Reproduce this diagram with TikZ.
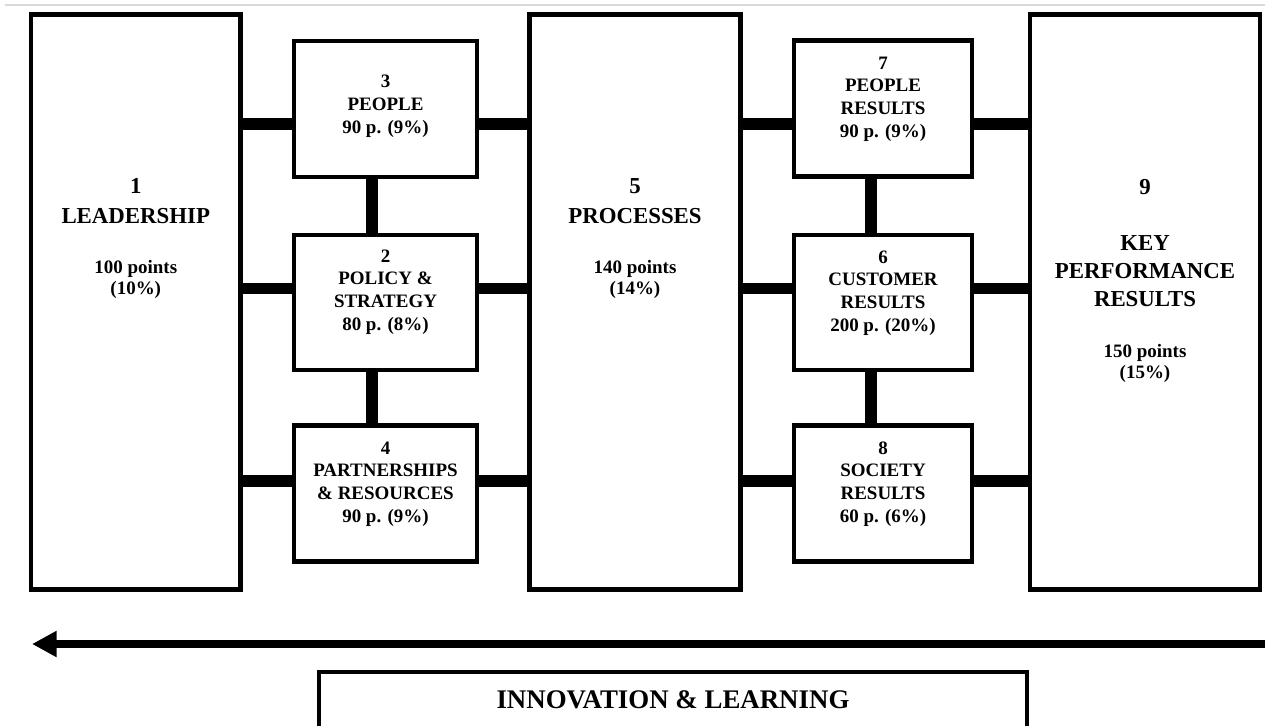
\documentclass[tikz,border=0pt]{standalone}
\usepackage{fontspec}
\setmainfont{Liberation Serif}
\usetikzlibrary{arrows.meta,positioning}
\definecolor{rulegray}{gray}{0.85}
\tikzset{
    frame/.style={draw,line width=2.4pt,inner sep=0pt},
    bigbox/.style={frame,minimum height=11.5cm},
    smallbox/.style={frame,minimum height=2.72cm},
    bar/.style={line width=6.5pt},
    bigtxt/.style={align=center,anchor=base,inner sep=0pt,font=\bfseries\fontsize{13pt}{17pt}\selectfont},
    ptstxt/.style={align=center,anchor=base,inner sep=0pt,font=\bfseries\fontsize{10.8pt}{11.8pt}\selectfont},
    smalltxt/.style={align=center,anchor=base,inner sep=0pt,font=\bfseries\fontsize{10.8pt}{12.9pt}\selectfont}
}
\begin{document}
\begin{tikzpicture}[x=0.02cm,y=-0.02cm]
    \useasboundingbox (0,0) rectangle (1265,725);
    % thin rule along the top
    \coordinate (topl) at (5,5);
    \coordinate (topr) at (1265,5);
    \draw[rulegray,line width=1.2pt] (topl) -- (topr);

    % the three tall columns
    \node[bigbox,minimum width=4.19cm] (lead) at (135.75,302) {};
    \node[bigbox,minimum width=4.22cm] (proc) at (635,302) {};
    \node[bigbox,minimum width=4.6cm] (kpr) at (1145,302) {};

    % enablers
    \node[smallbox,minimum width=3.66cm] (people) at (385.5,109) {};
    \node[smallbox,minimum width=3.66cm,minimum height=2.7cm] (policy) at (385.5,302.5) {};
    \node[smallbox,minimum width=3.66cm] (partner) at (385.5,493.5) {};

    % results
    \node[smallbox,minimum width=3.56cm] (peopleres) at (883,108.5) {};
    \node[smallbox,minimum width=3.56cm,minimum height=2.7cm] (custres) at (883,302.5) {};
    \node[smallbox,minimum width=3.56cm] (socres) at (883,493.5) {};

    % texts (base = baseline of the last line)
    \node[bigtxt] (leadtitle) at (135.75,223) {1\\LEADERSHIP};
    \node[ptstxt] (leadpts) at (135.75,294) {100 points\\(10\%)};
    \node[bigtxt] (proctitle) at (635,223) {5\\PROCESSES};
    \node[ptstxt] (procpts) at (635,294) {140 points\\(14\%)};
    \node[bigtxt] (kprnum) at (1145,194) {9};
    \node[bigtxt,font=\bfseries\fontsize{13pt}{15.8pt}\selectfont] (kprtitle) at (1145,306) {KEY\\PERFORMANCE\\RESULTS};
    \node[ptstxt] (kprpts) at (1145,378) {150 points\\(15\%)};

    \node[smalltxt] (peopletxt) at (385.5,133) {3\\PEOPLE\\90 p. (9\%)};
    \node[smalltxt] (policytxt) at (385.5,330) {2\\POLICY \&\\STRATEGY\\80 p. (8\%)};
    \node[smalltxt] (partnertxt) at (385.5,522) {4\\PARTNERSHIPS\\\& RESOURCES\\90 p. (9\%)};
    \node[smalltxt] (peoplerestxt) at (883,137) {7\\PEOPLE\\RESULTS\\90 p. (9\%)};
    \node[smalltxt] (custrestxt) at (883,331) {6\\CUSTOMER\\RESULTS\\200 p. (20\%)};
    \node[smalltxt] (socrestxt) at (883,522) {8\\SOCIETY\\RESULTS\\60 p. (6\%)};

    % rows and columns of the bars
    \coordinate (row1) at (0,124);
    \coordinate (row2) at (0,288.5);
    \coordinate (row3) at (0,481);
    \coordinate (colL) at (372,0);
    \coordinate (colR) at (871,0);

    \draw[bar] (lead.east |- row1) -- (people.west |- row1);
    \draw[bar] (lead.east |- row2) -- (policy.west |- row2);
    \draw[bar] (lead.east |- row3) -- (partner.west |- row3);
    \draw[bar] (people.east |- row1) -- (proc.west |- row1);
    \draw[bar] (policy.east |- row2) -- (proc.west |- row2);
    \draw[bar] (partner.east |- row3) -- (proc.west |- row3);
    \draw[bar] (proc.east |- row1) -- (peopleres.west |- row1);
    \draw[bar] (proc.east |- row2) -- (custres.west |- row2);
    \draw[bar] (proc.east |- row3) -- (socres.west |- row3);
    \draw[bar] (peopleres.east |- row1) -- (kpr.west |- row1);
    \draw[bar] (custres.east |- row2) -- (kpr.west |- row2);
    \draw[bar] (socres.east |- row3) -- (kpr.west |- row3);
    \draw[bar] (people.south -| colL) -- (policy.north -| colL);
    \draw[bar] (policy.south -| colL) -- (partner.north -| colL);
    \draw[bar] (peopleres.south -| colR) -- (custres.north -| colR);
    \draw[bar] (custres.south -| colR) -- (socres.north -| colR);

    % feedback arrow
    \coordinate (arrstart) at (1270,644);
    \coordinate (arrend) at (32,644);
    \draw[line width=4.5pt,-{Triangle[length=14pt,width=14pt]}] (arrstart) -- (arrend);

    \node[frame,minimum width=14.16cm,minimum height=1.92cm] (innov) at (673,720) {};
    \node[anchor=base,inner sep=0pt,font=\bfseries\fontsize{15.3pt}{18pt}\selectfont] (innovtxt) at (673,708) {INNOVATION \& LEARNING};
\end{tikzpicture}
\end{document}
